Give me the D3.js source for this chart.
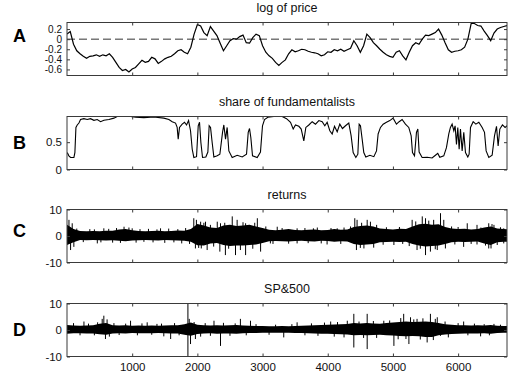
<!DOCTYPE html>
<html>
<head>
<meta charset="utf-8">
<script src="https://cdn.jsdelivr.net/npm/d3@7"></script>
<style>
  body { margin: 0; background: #fff; }
  text { font-family: "Liberation Sans", Arial, sans-serif; }
</style>
</head>
<body>
<div id="chart"></div>
<script>
// ---- data ----
const xMax = 6750;
const xTicks = [1000, 2000, 3000, 4000, 5000, 6000];

const titles = ['log of price', 'share of fundamentalists', 'returns', 'SP&500'];
const letters = ['A', 'B', 'C', 'D'];

// A: log of price, one value every 50 steps
const priceStep = 50;
const logPrice = [
  0.1, 0.15, -0.1, -0.23, -0.29, -0.34, -0.38, -0.34, -0.33, -0.31,
  -0.34, -0.31, -0.33, -0.29, -0.36, -0.46, -0.56, -0.62, -0.6, -0.65,
  -0.59, -0.56, -0.49, -0.42, -0.46, -0.44, -0.36, -0.39, -0.48, -0.44,
  -0.39, -0.36, -0.34, -0.29, -0.23, -0.21, -0.26, -0.29, -0.16, 0.1,
  0.29, 0.26, 0.13, 0.07, 0.25, 0.16, 0.07, -0.08, -0.23, -0.13,
  -0.03, 0.01, 0, 0.05, 0.08, -0.07, -0.08, 0.03, 0.1, 0.07,
  -0.13, -0.26, -0.33, -0.38, -0.46, -0.52, -0.46, -0.41, -0.29, -0.21,
  -0.25, -0.23, -0.2, -0.21, -0.24, -0.26, -0.27, -0.29, -0.33, -0.31,
  -0.25, -0.26, -0.21, -0.23, -0.2, -0.24, -0.21, -0.18, -0.03, -0.13,
  -0.26, -0.13, 0.1, 0.03, -0.07, -0.13, -0.2, -0.26, -0.31, -0.34,
  -0.36, -0.26, -0.23, -0.33, -0.41, -0.26, -0.13, -0.07, -0.1, 0,
  0.08, 0.07, 0.1, 0.13, 0.2, 0.08, -0.07, -0.21, -0.26, -0.24,
  -0.23, -0.21, -0.16, 0, 0.31, 0.31, 0.27, 0.26, 0.16, 0.07,
  -0.03, 0.12, 0.2, 0.23, 0.25, 0.27
];
const priceDomain = [-0.72, 0.33];
const priceTicks = [-0.6, -0.4, -0.2, 0, 0.2];

// B: share of fundamentalists (time, value)
const shareT = [
  4, 29, 55, 106, 121, 137, 157, 183, 208, 259, 310, 361, 413, 464, 515, 566, 643, 719, 770, 975,
  1052, 1179, 1333, 1486, 1563, 1614, 1665, 1690, 1706, 1726, 1767, 1803, 1834, 1865, 1895, 1921, 1946, 1987, 2013, 2033,
  2054, 2079, 2130, 2161, 2181, 2202, 2227, 2253, 2304, 2345, 2386, 2406, 2432, 2457, 2483, 2534, 2611, 2688, 2754, 2780,
  2800, 2820, 2846, 2918, 2968, 2999, 3030, 3081, 3173, 3301, 3368, 3429, 3470, 3505, 3557, 3593, 3633, 3664, 3710, 3761,
  3812, 3864, 3915, 3955, 3991, 4032, 4068, 4104, 4145, 4185, 4226, 4272, 4323, 4359, 4390, 4431, 4462, 4482, 4502, 4528,
  4553, 4584, 4646, 4707, 4748, 4773, 4809, 4850, 4901, 4952, 5003, 5054, 5095, 5141, 5192, 5243, 5280, 5300, 5331, 5361,
  5382, 5402, 5448, 5525, 5601, 5652, 5688, 5719, 5780, 5821, 5857, 5882, 5908, 5934, 5954, 5975, 5995, 6016, 6036, 6062,
  6087, 6113, 6149, 6169, 6190, 6231, 6272, 6318, 6369, 6405, 6430, 6471, 6522, 6558, 6589, 6614, 6640, 6680, 6721, 6752
];
const shareV = [
  0.31, 0.25, 0.22, 0.22, 0.31, 0.77, 0.815, 0.85, 0.915, 0.93, 0.915, 0.93, 0.9, 0.915, 0.875, 0.9, 0.915, 0.94, 0.97, 0.97,
  0.955, 0.95, 0.96, 0.94, 0.915, 0.875, 0.85, 0.77, 0.555, 0.77, 0.83, 0.865, 0.815, 0.895, 0.71, 0.37, 0.22, 0.235, 0.8, 0.865,
  0.495, 0.22, 0.23, 0.32, 0.8, 0.77, 0.495, 0.23, 0.25, 0.28, 0.68, 0.815, 0.555, 0.77, 0.34, 0.22, 0.26, 0.23, 0.28, 0.68,
  0.75, 0.585, 0.25, 0.22, 0.32, 0.8, 0.915, 0.955, 0.97, 0.97, 0.93, 0.865, 0.74, 0.815, 0.79, 0.74, 0.525, 0.77, 0.815, 0.875,
  0.83, 0.895, 0.875, 0.8, 0.865, 0.71, 0.65, 0.79, 0.69, 0.83, 0.75, 0.8, 0.85, 0.615, 0.31, 0.22, 0.28, 0.83, 0.8, 0.555,
  0.31, 0.23, 0.26, 0.235, 0.34, 0.65, 0.77, 0.83, 0.865, 0.895, 0.94, 0.83, 0.875, 0.915, 0.83, 0.77, 0.615, 0.31, 0.25, 0.68,
  0.74, 0.32, 0.22, 0.225, 0.21, 0.26, 0.295, 0.225, 0.25, 0.4, 0.65, 0.77, 0.83, 0.71, 0.8, 0.46, 0.77, 0.37, 0.74, 0.34,
  0.68, 0.31, 0.23, 0.28, 0.77, 0.875, 0.83, 0.865, 0.77, 0.68, 0.34, 0.22, 0.26, 0.615, 0.79, 0.43, 0.74, 0.815, 0.77, 0.8
];
const shareDomain = [0, 0.97];
const shareTicks = [0, 0.5];

// C: returns, dense band every 100 steps plus single spikes
const bandStep = 100;
const retHi = [
  4.2, 2.6, 1.9, 1.8, 1.9, 1.8, 2.0, 2.0, 2.5, 2.6,
  2.2, 1.9, 1.8, 1.9, 2.0, 1.8, 1.9, 2.1, 2.0, 2.6,
  4.5, 4.0, 3.2, 3.0, 4.0, 4.2, 3.8, 4.0, 4.2, 3.6,
  3.0, 2.4, 2.2, 2.4, 2.6, 2.3, 2.2, 2.4, 2.5, 2.2,
  2.3, 2.6, 2.4, 2.5, 3.4, 3.8, 4.0, 3.6, 2.8, 2.6,
  2.5, 2.7, 2.6, 3.6, 4.4, 4.6, 4.2, 4.4, 3.4, 2.8,
  2.6, 2.7, 2.5, 2.6, 3.2, 3.6, 2.8, 2.6, 2.5
];
const retLo = [
  -3.4, -2.4, -1.5, -1.6, -1.5, -1.6, -1.7, -1.6, -1.8, -2.0,
  -1.7, -1.6, -1.5, -1.6, -1.7, -1.5, -1.6, -1.7, -1.8, -2.2,
  -3.5, -3.6, -2.8, -2.6, -3.4, -3.8, -3.6, -3.6, -3.4, -3.2,
  -2.6, -2.0, -1.9, -2.0, -2.1, -1.9, -1.8, -2.0, -2.1, -1.8,
  -1.9, -2.2, -2.0, -2.1, -3.0, -3.4, -3.2, -3.0, -2.4, -2.3,
  -2.2, -2.3, -2.2, -3.0, -3.6, -4.0, -3.8, -3.6, -3.0, -2.4,
  -2.2, -2.3, -2.2, -2.1, -2.8, -3.4, -2.4, -2.2, -2.1
];
const retSpikeT = [
  30, 80, 55, 105, 565, 875, 950, 1435, 465, 1180, 1640,
  1945, 1985, 2050, 2125, 2305, 2355, 2535, 2610, 2740, 2920,
  1970, 2060, 2150, 2345, 2430, 2585, 2660, 2740, 2970,
  3225, 3530, 3840, 4145, 3120, 3530, 3990,
  4415, 4450, 4605, 4655, 4440, 4555, 4705, 5015,
  5295, 5450, 5500, 5625, 5730, 5780, 5370, 5500, 5575, 5680, 5805,
  6140, 6290, 6085, 6290, 6470, 6550, 6470, 6505, 6700, 6700,
  150, 250, 350, 420, 520, 640, 700, 760, 820, 1000, 1060, 1120, 1250, 1320, 1380,
  1500, 1560, 1700, 1760, 1820, 1880, 2020, 2100, 2200, 2250, 2420, 2480, 2700, 2850, 2880,
  3050, 3160, 3300, 3400, 3650, 3700, 3780, 3900, 4050, 4200, 4250, 4350, 4500, 4520, 4750,
  4850, 4900, 5100, 5150, 5250, 5350, 5420, 5550, 5650, 5900, 5950, 6000, 6200, 6350, 6420,
  6520, 6600, 6650
];
const retSpikeV = [
  6.1, 4.8, -5.3, -4.1, 2.9, 3.5, 3.2, 2.9, -2.8, -2.2, -2.4,
  6.7, 6.1, 5.4, 5.4, 5.4, 4.8, 7.4, 6.1, 4.8, 6.7,
  -4.7, -4.7, -5.3, -5.9, -7.2, -7.2, -5.3, -7.2, -5.9,
  3.5, 2.9, 3.2, 2.9, -2.8, -2.8, -3.2,
  6.7, 6.1, 6.1, 5.4, -5.3, -4.7, -4.4, -3.4,
  6.1, 7.4, 6.7, 6.1, 8.6, 6.1, -5.3, -7.2, -5.9, -5.3, -4.7,
  4.8, 4.2, -4.1, -3.2, 4.8, 4.2, -4.7, -4.7, 2.9, -2.8,
  2.8, -2.3, 2.6, 2.5, -2.4, 2.7, -2.5, 3.0, -2.6, 2.9, -2.5, 2.6, 2.7, -2.4, 2.5,
  -2.6, 2.8, 2.6, -2.8, 3.0, -3.0, -4.5, 5.0, 4.2, -4.0, 5.0, -4.8, 5.2, -4.8, 5.0,
  3.6, -3.0, 3.0, -2.9, 3.0, -2.7, 2.9, -2.8, 3.0, -3.0, 3.2, 3.6, -4.5, 5.0, 4.2,
  -3.3, 3.3, 3.4, -3.0, -3.8, 5.5, -4.8, 5.8, -5.0, 3.6, -3.2, 3.4, -3.0, 3.2, -3.6,
  4.5, -3.4, 3.3
];

// D: SP&500
const spHi = [
  1.9, 1.7, 1.6, 1.7, 1.8, 2.4, 2.6, 1.8, 1.7, 1.8,
  1.6, 1.7, 1.6, 1.7, 1.6, 1.7, 1.8, 1.8, 2.2, 2.8,
  2.0, 1.8, 1.7, 1.8, 1.7, 1.8, 1.9, 1.7, 1.6, 1.5,
  1.5, 1.4, 1.4, 1.5, 1.4, 1.5, 1.6, 1.7, 1.8, 1.9,
  2.0, 2.1, 2.2, 2.3, 2.6, 2.5, 2.6, 2.5, 2.4, 2.6,
  2.8, 3.0, 3.2, 3.0, 3.1, 3.2, 3.0, 2.6, 2.2, 2.0,
  1.8, 1.8, 1.7, 1.8, 1.7, 1.9, 1.6, 1.5, 1.5
];
const spLo = [
  -1.4, -1.2, -1.2, -1.3, -1.3, -1.6, -1.8, -1.3, -1.2, -1.3,
  -1.1, -1.2, -1.2, -1.2, -1.1, -1.2, -1.3, -1.3, -1.8, -2.2,
  -1.5, -1.3, -1.2, -1.4, -1.3, -1.3, -1.4, -1.2, -1.1, -1.1,
  -1.0, -1.0, -1.0, -1.0, -1.0, -1.1, -1.1, -1.2, -1.3, -1.4,
  -1.4, -1.5, -1.6, -1.7, -2.0, -1.9, -2.0, -1.9, -1.8, -2.0,
  -2.1, -2.3, -2.4, -2.3, -2.4, -2.6, -2.6, -2.0, -1.7, -1.5,
  -1.4, -1.3, -1.3, -1.3, -1.2, -1.4, -1.1, -1.0, -1.0
];
const spSpikeT = [
  565, 540, 615, 590, 260, 975, 1230, 1590, 1485,
  1855, 1855, 1875, 1895, 1970, 2355, 2255, 2660, 2815,
  3325, 3530, 4045, 4300, 4400, 4400, 4605, 4605, 4860, 5015,
  5165, 5245, 5270, 5370, 5525, 5575, 5680, 5730, 6085, 6550, 6345,
  100, 200, 330, 420, 470, 650, 720, 800, 900, 1080, 1150, 1300, 1380, 1450,
  1650, 1720, 1950, 2050, 2120, 2200, 2400, 2500, 2580, 2750, 2900, 3100, 3200, 3450,
  3650, 3750, 3850, 3950, 4100, 4150, 4250, 4480, 4550, 4700, 4750, 4950, 5080, 5120,
  5200, 5320, 5420, 5460, 5620, 5650, 5800, 5850, 6000, 6150, 6250, 6400, 6480, 6650
];
const spSpikeV = [
  5.4, 4.2, 4.0, -3.4, 3.2, 3.5, 2.9, -3.4, -2.4,
  9.9, -9.8, 4.2, -5.3, -3.4, -6.0, 3.5, 4.2, 3.5,
  -2.8, 2.9, 3.2, 3.5, 6.1, -6.6, 6.1, -7.2, 3.5, -6.0,
  6.1, -5.3, 4.8, 4.2, -4.7, 6.1, 4.8, -2.2, 3.2, 2.3, -2.4,
  2.6, -2.0, 2.4, -2.0, 2.9, -2.5, 2.6, -1.9, 2.4, -2.0, 2.5, -1.8, 2.3, 2.4,
  2.6, -2.0, 3.0, -2.5, 2.6, -2.2, 2.7, -2.2, 2.5, -2.0, 2.2, -1.8, 2.0, 2.2,
  -2.0, 2.5, -2.2, 2.8, -2.5, 3.0, -2.8, 3.2, -3.0, 3.4, -3.0, 3.6, -3.5, 4.5,
  -3.4, 4.0, -3.6, 4.4, -3.8, 4.2, 3.2, -2.8, 2.6, -2.0, 2.4, 2.2, -2.0, 2.0
];
const retDomain = [-10, 10];
const retTicks = [-10, 0, 10];

// ---- layout ----
const width = 511, height = 380;
const plotLeft = 67, plotRight = 507, panelH = 53;
const panelTop = [22.5, 116.5, 209.5, 303.5];
const letterY = [42, 148.5, 237, 335.5];
const tickFont = [10, 11.5, 11.5, 11.5];

const svg = d3.select('#chart').append('svg')
  .attr('width', width).attr('height', height)
  .attr('viewBox', '0 0 ' + width + ' ' + height);

const x = d3.scaleLinear().domain([0, xMax]).range([plotLeft, plotRight]);

function drawPanel(i, yDomain, yTicks, drawMarks) {
  const top = panelTop[i], bottom = top + panelH;
  const y = d3.scaleLinear().domain(yDomain).range([bottom, top]);
  const g = svg.append('g');

  g.append('clipPath').attr('id', 'clip' + i)
    .append('rect').attr('x', plotLeft).attr('y', top)
    .attr('width', plotRight - plotLeft).attr('height', panelH);

  const marks = g.append('g').attr('clip-path', 'url(#clip' + i + ')');
  drawMarks(marks, y);

  // box
  g.append('rect')
    .attr('x', plotLeft).attr('y', top)
    .attr('width', plotRight - plotLeft).attr('height', panelH)
    .attr('fill', 'none').attr('stroke', '#3a3a3a').attr('stroke-width', 1);

  // inward ticks on all four sides, labels left and (last panel) bottom
  const axes = [
    [d3.axisBottom(x).tickValues(xTicks).tickPadding(6)
      .tickFormat(i === 3 ? d3.format('d') : ''), 'translate(0,' + bottom + ')', 11.5],
    [d3.axisTop(x).tickValues(xTicks).tickFormat(''), 'translate(0,' + top + ')', 11.5],
    [d3.axisLeft(y).tickValues(yTicks).tickPadding(5)
      .tickFormat((d) => String(d)), 'translate(' + plotLeft + ',0)', tickFont[i]],
    [d3.axisRight(y).tickValues(yTicks).tickFormat(''), 'translate(' + plotRight + ',0)', 11.5],
  ];
  axes.forEach(([ax, tr, fs]) => {
    const a = g.append('g').attr('transform', tr)
      .call(ax.tickSize(-3).tickSizeOuter(0));
    a.select('.domain').remove();
    a.selectAll('line').attr('stroke', '#3a3a3a');
    a.selectAll('text').attr('font-size', fs).attr('fill', '#111')
      .attr('font-family', '"Liberation Sans", Arial, sans-serif');
  });

  g.append('text')
    .attr('x', (plotLeft + plotRight) / 2).attr('y', top - 11)
    .attr('text-anchor', 'middle').attr('font-size', 12.5).attr('fill', '#111')
    .text(titles[i]);

  g.append('text')
    .attr('x', 13).attr('y', letterY[i])
    .attr('font-size', 18).attr('font-weight', 'bold').attr('fill', '#000')
    .text(letters[i]);
}

function bandMarks(hi, lo, spikeT, spikeV) {
  return (g, y) => {
    const band = hi.map((h, k) => ({ t: k * bandStep, hi: h, lo: lo[k] }));
    g.append('path')
      .datum(band)
      .attr('fill', '#000')
      .attr('d', d3.area().x((d) => x(d.t)).y0((d) => y(d.lo)).y1((d) => y(d.hi)));
    g.selectAll('line.spike')
      .data(spikeT.map((t, k) => ({ t: t, v: spikeV[k] })))
      .enter().append('line')
      .attr('class', 'spike')
      .attr('x1', (d) => x(d.t)).attr('x2', (d) => x(d.t))
      .attr('y1', y(0)).attr('y2', (d) => y(d.v))
      .attr('stroke', '#000').attr('stroke-width', 1);
  };
}

// A
drawPanel(0, priceDomain, priceTicks, (g, y) => {
  g.append('line')
    .attr('x1', plotLeft).attr('x2', plotRight)
    .attr('y1', y(0)).attr('y2', y(0))
    .attr('stroke', '#333').attr('stroke-width', 1)
    .attr('stroke-dasharray', '8,4');
  g.append('path')
    .datum(logPrice)
    .attr('fill', 'none').attr('stroke', '#000').attr('stroke-width', 1.2)
    .attr('d', d3.line().x((d, k) => x(k * priceStep)).y((d) => y(d)));
});

// B
drawPanel(1, shareDomain, shareTicks, (g, y) => {
  g.append('path')
    .datum(shareT.map((t, k) => [t, shareV[k]]))
    .attr('fill', 'none').attr('stroke', '#000').attr('stroke-width', 1.1)
    .attr('d', d3.line().x((d) => x(d[0])).y((d) => y(d[1])));
});

// C and D
drawPanel(2, retDomain, retTicks, bandMarks(retHi, retLo, retSpikeT, retSpikeV));
drawPanel(3, retDomain, retTicks, bandMarks(spHi, spLo, spSpikeT, spSpikeV));
</script>
</body>
</html>
